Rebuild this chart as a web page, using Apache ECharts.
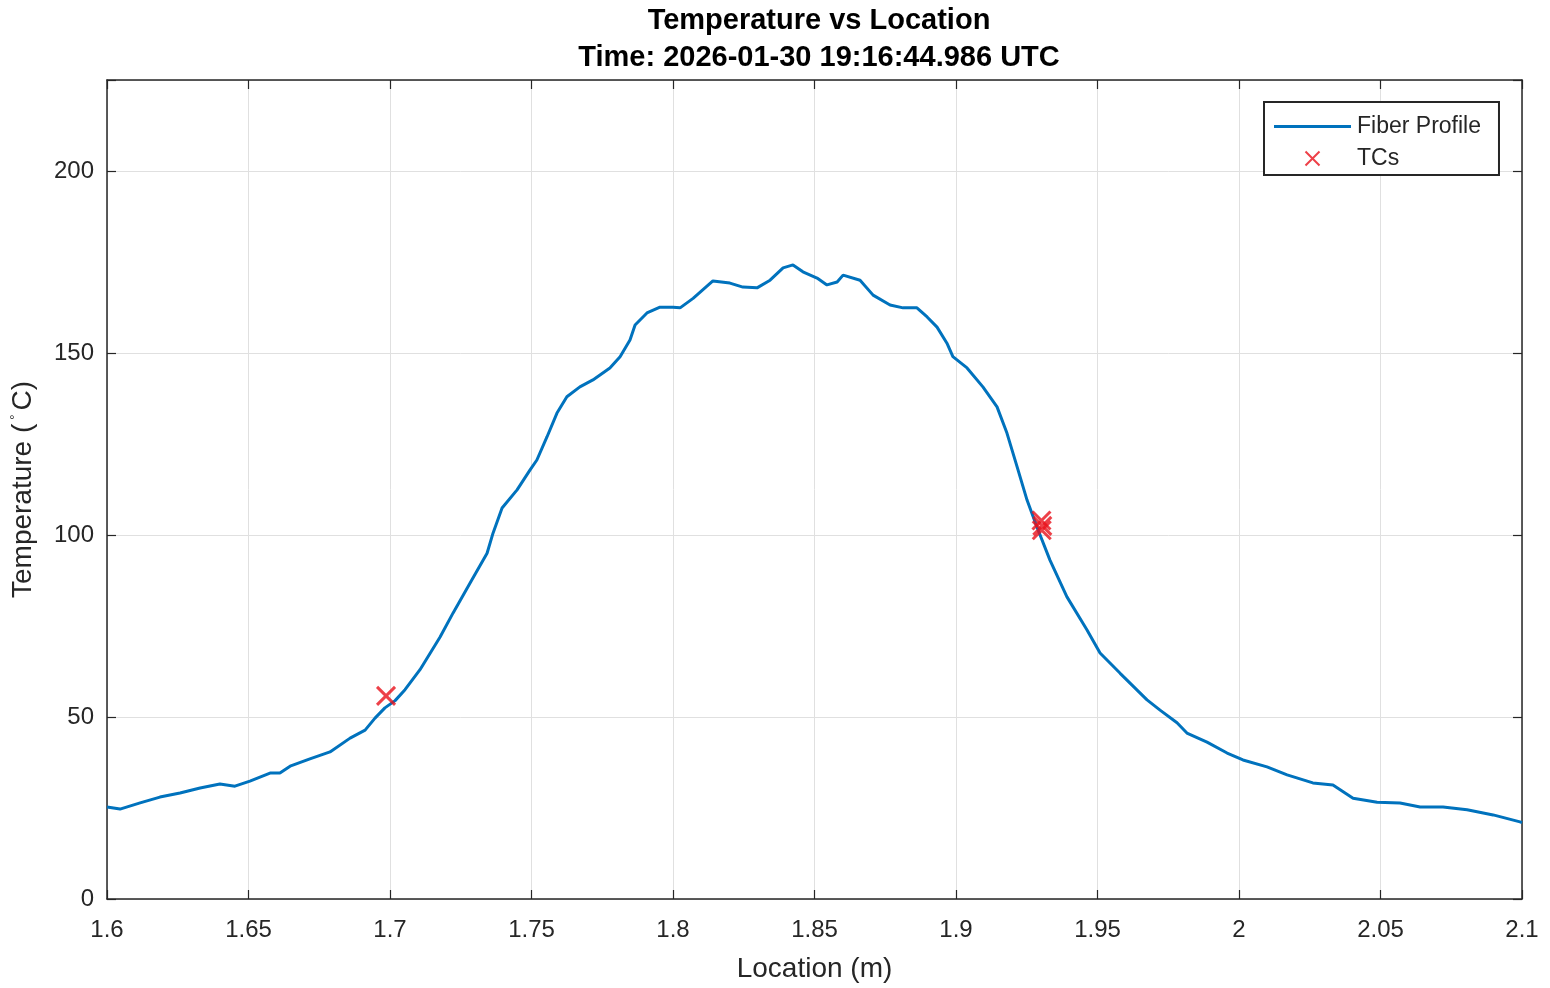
<!DOCTYPE html>
<html>
<head>
<meta charset="utf-8">
<script src="https://cdn.jsdelivr.net/npm/echarts@6/dist/echarts.min.js"></script>
<style>html,body{margin:0;padding:0;background:#fff}#c{width:1550px;height:988px}</style>
</head>
<body>
<div id="c"></div>
<script>
const titleLines = ['Temperature vs Location', 'Time: 2026-01-30 19:16:44.986 UTC'];
const xTicks = [1.6, 1.65, 1.7, 1.75, 1.8, 1.85, 1.9, 1.95, 2, 2.05, 2.1];
const yTicks = [0, 50, 100, 150, 200];

const fiberX = [1.6,1.6046,1.6117,1.6187,1.6258,1.6329,1.6399,1.6452,1.6505,1.6576,1.6611,1.6647,1.6717,1.6788,1.6859,1.6912,1.6947,1.6982,1.7018,1.7053,1.7106,1.7177,1.7223,1.7283,1.7343,1.7364,1.7396,1.7449,1.7495,1.7519,1.7555,1.7590,1.7625,1.7671,1.7717,1.7777,1.7813,1.7848,1.7866,1.7908,1.7954,1.8,1.8025,1.8071,1.8141,1.8201,1.8247,1.8297,1.8343,1.8389,1.8424,1.8459,1.8509,1.8544,1.8580,1.8601,1.8661,1.8707,1.8767,1.8813,1.8862,1.8898,1.8933,1.8968,1.8989,1.9039,1.9095,1.9145,1.9180,1.9216,1.9251,1.9286,1.9332,1.9392,1.9463,1.9509,1.9580,1.9675,1.9721,1.9781,1.9816,1.9887,1.9958,2.0014,2.0099,2.0170,2.0261,2.0332,2.0403,2.0488,2.0569,2.0640,2.0721,2.0806,2.0898,2.0993,2.1];
const fiberY = [25.3,24.7,26.4,28.0,29.1,30.5,31.6,31.0,32.4,34.6,34.6,36.5,38.5,40.4,44.2,46.4,49.7,52.5,54.5,57.5,63.0,72.0,78.6,86.8,95.0,100.5,107.4,112.4,117.9,120.6,127.0,133.5,138.0,140.7,142.6,145.9,149.0,153.6,157.7,161.0,162.6,162.6,162.4,165.0,169.8,169.2,168.1,167.9,170.0,173.4,174.2,172.3,170.6,168.7,169.5,171.4,170.0,165.9,163.2,162.4,162.4,159.9,157.1,152.7,149.0,145.9,140.7,135.2,128.0,118.7,109.6,102.2,93.1,83.0,73.9,67.6,62.0,54.7,51.9,48.4,45.6,43.1,40.1,38.2,36.3,34.1,31.9,31.3,27.7,26.6,26.4,25.3,25.3,24.5,23.1,21.2,21.0];

const tcX = [1.6986, 1.9302, 1.9305, 1.9303];
const tcY = [55.8, 104.0, 102.5, 101.3];

const fiberData = fiberX.map((x, i) => [x, fiberY[i]]);
const tcData = tcX.map((x, i) => [x, tcY[i]]);

const font = 'Liberation Sans, Arial, Helvetica, sans-serif';
const axisCol = '#262626';
const textCol = '#262626';
const xSym = 'path://M0,0L10,10M10,0L0,10';

const chart = echarts.init(document.getElementById('c'), null, {renderer: 'canvas'});
const baseX = {
  type: 'value', min: 1.6, max: 2.1, interval: 0.05,
  axisLine: {show: true, onZero: false, lineStyle: {color: axisCol, width: 1.5}},
  axisTick: {show: true, inside: true, length: 9, lineStyle: {color: axisCol, width: 1.2}},
  splitLine: {show: false}
};
const baseY = {
  type: 'value', min: 0, max: 225, interval: 50,
  axisLine: {show: true, onZero: false, lineStyle: {color: axisCol, width: 1.5}},
  axisTick: {show: true, inside: true, length: 9, lineStyle: {color: axisCol, width: 1.2}},
  splitLine: {show: false}
};
chart.setOption({
  animation: false,
  backgroundColor: '#ffffff',
  title: {
    text: titleLines.join('\n'),
    left: 814, top: -3, textAlign: 'center',
    textStyle: {fontFamily: font, fontSize: 29, fontWeight: 'bold', color: '#000', lineHeight: 37}
  },
  grid: {left: 107, right: 28, top: 80, bottom: 89},
  legend: {
    orient: 'vertical', left: 1264, top: 102,
    padding: [13, 18, 5, 10],
    itemGap: 9,
    itemWidth: 77, itemHeight: 14,
    borderColor: '#262626', borderWidth: 2,
    backgroundColor: '#fff',
    textStyle: {fontFamily: font, fontSize: 23, color: textCol, padding: [0, 0, 0, 1]},
    data: [
      {name: 'Fiber Profile', icon: 'path://M0,0L77,0L77,3L0,3Z'},
      {name: 'TCs'}
    ]
  },
  xAxis: [
    Object.assign({}, baseX, {
      position: 'bottom',
      name: 'Location (m)', nameLocation: 'middle', nameGap: 56,
      nameTextStyle: {fontFamily: font, fontSize: 28, color: textCol},
      axisLabel: {fontFamily: font, fontSize: 24, color: textCol, margin: 19,
        formatter: v => { const t = xTicks.find(k => Math.abs(k - v) < 1e-6); return t === undefined ? '' : String(t); }},
      splitLine: {show: true, lineStyle: {color: '#e0e0e0', width: 1}}
    }),
    Object.assign({}, baseX, {position: 'top', axisLabel: {show: false}})
  ],
  yAxis: [
    Object.assign({}, baseY, {
      position: 'left',
      name: 'Temperature ({s|°}C)', nameLocation: 'middle', nameGap: 70,
      nameTextStyle: {fontFamily: font, fontSize: 28, color: textCol,
        rich: {s: {fontFamily: font, fontSize: 13, color: textCol, verticalAlign: 'top', padding: [0, 4, 14, 4]}}},
      axisLabel: {fontFamily: font, fontSize: 24, color: textCol, margin: 13,
        formatter: v => yTicks.indexOf(v) >= 0 ? String(v) : ''},
      splitLine: {show: true, lineStyle: {color: '#e0e0e0', width: 1}}
    }),
    Object.assign({}, baseY, {position: 'right', axisLabel: {show: false}})
  ],
  series: [
    {
      name: 'Fiber Profile', type: 'line', data: fiberData,
      symbol: 'none', smooth: false,
      lineStyle: {color: '#0072BD', width: 3},
      itemStyle: {color: '#0072BD'},
      z: 3
    },
    {
      name: 'TCs', type: 'scatter', data: tcData,
      symbol: xSym, symbolSize: 18, symbolKeepAspect: true,
      itemStyle: {color: 'none', borderColor: '#e8101a', borderWidth: 3},
      z: 4
    }
  ]
});
</script>
</body>
</html>
